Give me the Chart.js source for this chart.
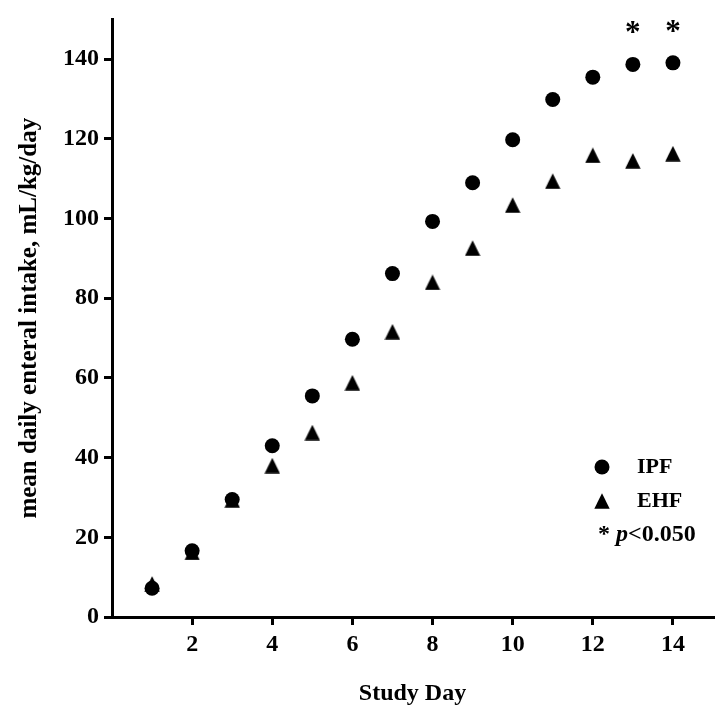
<!DOCTYPE html>
<html>
<head>
<meta charset="utf-8">
<script src="https://cdn.jsdelivr.net/npm/chart.js@4/dist/chart.umd.min.js"></script>
<style>
  html, body { margin: 0; padding: 0; background: #fff; }
  #wrap { width: 728px; height: 715px; }
</style>
</head>
<body>
<div id="wrap"><canvas id="chart"></canvas></div>
<script>
const days = [1, 2, 3, 4, 5, 6, 7, 8, 9, 10, 11, 12, 13, 14];
const ipf = [7.2, 16.6, 29.5, 43.0, 55.5, 69.7, 86.2, 99.3, 109.0, 119.8, 129.9, 135.5, 138.7, 139.1];
const ehf = [8.3, 16.2, 29.4, 38.0, 46.3, 58.8, 71.6, 84.0, 92.6, 103.4, 109.4, 115.9, 114.5, 116.3];
const sigDays = [13, 14];
const xTicks = [2, 4, 6, 8, 10, 12, 14];
const yTicks = [0, 20, 40, 60, 80, 100, 120, 140];

const FONT = '"Liberation Serif", "Times New Roman", serif';

// prism-like triangle, a bit taller than equilateral
const tri = document.createElement('canvas');
tri.width = 16; tri.height = 16;
(function () {
  const c = tri.getContext('2d');
  c.fillStyle = '#000';
  c.beginPath();
  c.moveTo(8, 0.3);
  c.lineTo(15.7, 15.7);
  c.lineTo(0.3, 15.7);
  c.closePath();
  c.fill();
})();

const extras = {
  id: 'extras',
  afterDatasetsDraw(chart) {
    const ctx = chart.ctx;
    const xs = chart.scales.x, ys = chart.scales.y;
    const area = chart.chartArea;
    ctx.save();
    ctx.fillStyle = '#000';

    // significance stars over IPF points
    ctx.font = 'bold 31px ' + FONT;
    ctx.textAlign = 'center';
    ctx.textBaseline = 'alphabetic';
    sigDays.forEach(d => {
      const i = days.indexOf(d);
      ctx.fillText('*', xs.getPixelForValue(d), ys.getPixelForValue(ipf[i]) - 22);
    });

    // legend
    const lx = area.right - 111;
    const ly = area.bottom - 150;
    ctx.beginPath();
    ctx.arc(lx, ly, 7.5, 0, Math.PI * 2);
    ctx.fill();
    ctx.drawImage(tri, lx - 8, ly + 34 - 8);

    ctx.font = 'bold 22px ' + FONT;
    ctx.textAlign = 'left';
    ctx.textBaseline = 'middle';
    ctx.fillText('IPF', lx + 35, ly);
    ctx.fillText('EHF', lx + 35, ly + 34);

    let tx = lx - 4;
    const ty = ly + 68;
    ctx.font = 'bold 24px ' + FONT;
    ctx.fillText('* ', tx, ty);
    tx += ctx.measureText('* ').width;
    ctx.font = 'italic bold 24px ' + FONT;
    ctx.fillText('p', tx, ty);
    tx += ctx.measureText('p').width;
    ctx.font = 'bold 24px ' + FONT;
    ctx.fillText('<0.050', tx, ty);
    ctx.restore();
  }
};

const tickFont = { family: FONT, size: 24, weight: 'bold' };
const titleFont = { family: FONT, size: 25, weight: 'bold' };

new Chart(document.getElementById('chart'), {
  type: 'scatter',
  data: {
    datasets: [
      {
        label: 'IPF',
        data: days.map((d, i) => ({ x: d, y: ipf[i] })),
        pointStyle: 'circle',
        pointRadius: 7.5,
        pointBorderWidth: 0,
        backgroundColor: '#000',
        borderColor: '#000'
      },
      {
        label: 'EHF',
        data: days.map((d, i) => ({ x: d, y: ehf[i] })),
        pointStyle: tri,
        pointRadius: 8,
        backgroundColor: '#000',
        borderColor: '#000'
      }
    ]
  },
  options: {
    responsive: true,
    maintainAspectRatio: false,
    animation: false,
    layout: { padding: { top: 15, right: 15, left: 0, bottom: 0 } },
    plugins: { legend: { display: false }, tooltip: { enabled: false } },
    scales: {
      x: {
        type: 'linear',
        min: 0,
        max: 15,
        afterBuildTicks: s => { s.ticks = xTicks.map(v => ({ value: v })); },
        afterFit: s => { s.height = 98; },
        ticks: { font: tickFont, color: '#000', padding: 5, maxRotation: 0 },
        grid: { drawOnChartArea: false, tickLength: 8, lineWidth: 3, color: '#000' },
        border: { color: '#000', width: 3 },
        title: { display: true, text: 'Study Day', color: '#000', font: tickFont, padding: { top: 0, bottom: 7 } }
      },
      y: {
        min: 0,
        max: 150,
        afterBuildTicks: s => { s.ticks = yTicks.map(v => ({ value: v })); },
        afterFit: s => { s.width = 112; },
        ticks: { font: tickFont, color: '#000', padding: 5 },
        grid: { drawOnChartArea: false, tickLength: 8, lineWidth: 3, color: '#000' },
        border: { color: '#000', width: 3 },
        title: { display: true, text: 'mean daily enteral intake, mL/kg/day', color: '#000', font: titleFont, padding: { top: 15, bottom: 0 } }
      }
    }
  },
  plugins: [extras]
});
</script>
</body>
</html>
